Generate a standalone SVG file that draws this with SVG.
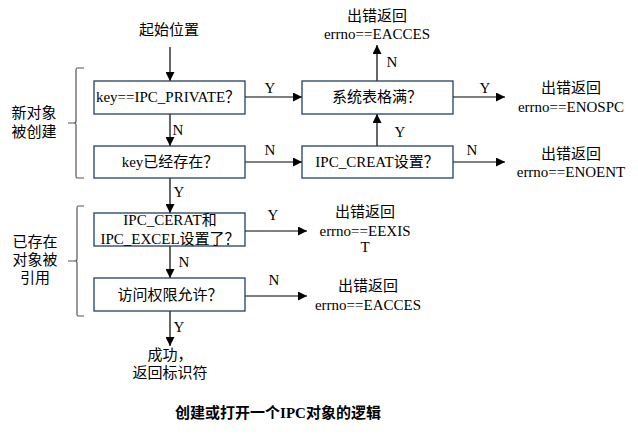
<svg xmlns="http://www.w3.org/2000/svg" width="638" height="435" viewBox="0 0 638 435">
<style>
.t{font-family:"Liberation Serif","Noto Sans CJK SC",serif;font-size:15px;fill:#000;text-anchor:middle}
.q{font-family:"Noto Sans CJK SC",sans-serif}
.lb{font-family:"Liberation Serif",serif;font-size:15px;fill:#000;text-anchor:middle}
.box{fill:#fff;stroke:#243f60;stroke-width:1.3}
.ln{stroke:#000;stroke-width:1.2;fill:none}
.br{stroke:#555;stroke-width:1.2;fill:none}
.cap{font-family:"Noto Sans CJK SC","Liberation Serif",sans-serif;font-size:15px;font-weight:bold;text-anchor:middle}
.capl{font-family:"Liberation Serif",serif}
</style>
<defs>
<marker id="ah" markerWidth="9" markerHeight="9" refX="9" refY="4.5" orient="auto" markerUnits="userSpaceOnUse">
<path d="M0,0 L9,4.5 L0,9 z" fill="#000"/>
</marker>
</defs>
<rect width="638" height="435" fill="#fff"/>

<g id="connectors">
<line class="ln" x1="170" y1="47" x2="170" y2="81" marker-end="url(#ah)"/>
<line class="ln" x1="170" y1="114" x2="170" y2="146" marker-end="url(#ah)"/>
<line class="ln" x1="170" y1="178" x2="170" y2="213" marker-end="url(#ah)"/>
<line class="ln" x1="170" y1="246" x2="170" y2="278" marker-end="url(#ah)"/>
<line class="ln" x1="170" y1="311" x2="170" y2="346" marker-end="url(#ah)"/>
<line class="ln" x1="245" y1="97" x2="302" y2="97" marker-end="url(#ah)"/>
<line class="ln" x1="245" y1="162" x2="302" y2="162" marker-end="url(#ah)"/>
<line class="ln" x1="377" y1="146" x2="377" y2="114" marker-end="url(#ah)"/>
<line class="ln" x1="377" y1="81" x2="377" y2="45" marker-end="url(#ah)"/>
<line class="ln" x1="453" y1="97" x2="505" y2="97" marker-end="url(#ah)"/>
<line class="ln" x1="453" y1="162" x2="505" y2="162" marker-end="url(#ah)"/>
<line class="ln" x1="245" y1="231" x2="307" y2="231" marker-end="url(#ah)"/>
<line class="ln" x1="245" y1="296" x2="307" y2="296" marker-end="url(#ah)"/>
<text class="lb" x="178" y="135">N</text>
<text class="lb" x="179" y="197">Y</text>
<text class="lb" x="184" y="267">N</text>
<text class="lb" x="179" y="332">Y</text>
<text class="lb" x="270" y="93">Y</text>
<text class="lb" x="270" y="155">N</text>
<text class="lb" x="400" y="137">Y</text>
<text class="lb" x="392" y="67">N</text>
<text class="lb" x="485" y="93">Y</text>
<text class="lb" x="472" y="155">N</text>
<text class="lb" x="273" y="220">Y</text>
<text class="lb" x="274" y="285">N</text>
</g>

<g id="start"><text class="t" x="169" y="35">起始位置</text></g>

<g id="n1"><rect class="box" x="94" y="81" width="151" height="33"/><text class="t" x="168" y="102">key==IPC_PRIVATE<tspan class="q">？</tspan></text></g>
<g id="n2"><rect class="box" x="94" y="146" width="151" height="32"/><text class="t" x="170" y="167">key已经存在<tspan class="q">？</tspan></text></g>
<g id="n3"><rect class="box" x="302" y="81" width="151" height="33"/><text class="t" x="377" y="102">系统表格满<tspan class="q">？</tspan></text></g>
<g id="n4"><rect class="box" x="302" y="146" width="151" height="32"/><text class="t" x="377" y="167">IPC_CREAT设置<tspan class="q">？</tspan></text></g>
<g id="n5"><rect class="box" x="94" y="213" width="151" height="33"/><text class="t" x="170" y="225">IPC_CERAT和</text><text class="t" x="170" y="244">IPC_EXCEL设置了<tspan class="q">？</tspan></text></g>
<g id="n6"><rect class="box" x="94" y="278" width="151" height="33"/><text class="t" x="170" y="300">访问权限允许<tspan class="q">？</tspan></text></g>

<g id="e1"><text class="t" x="377" y="21">出错返回</text><text class="t" x="377" y="39">errno==EACCES</text></g>
<g id="e2"><text class="t" x="571" y="93">出错返回</text><text class="t" x="571" y="112">errno==ENOSPC</text></g>
<g id="e3"><text class="t" x="571" y="159">出错返回</text><text class="t" x="571" y="177">errno==ENOENT</text></g>
<g id="e4"><text class="t" x="365" y="217">出错返回</text><text class="t" x="365" y="236">errno==EEXIS</text><text class="t" x="365" y="252">T</text></g>
<g id="e5"><text class="t" x="368" y="291">出错返回</text><text class="t" x="368" y="310">errno==EACCES</text></g>
<g id="ok"><text class="t" x="170" y="360">成功，</text><text class="t" x="170" y="378">返回标识符</text></g>

<g id="brace1">
<path class="br" d="M84,68 L77,68 Q76,68 76,70 L76,121 Q76,123 74,123 L68,123 M74,123 Q76,123 76,125 L76,176 Q76,178 77,178 L84,178"/>
<text class="t" x="34" y="118">新对象</text><text class="t" x="34" y="137">被创建</text>
</g>
<g id="brace2">
<path class="br" d="M84,206 L78,206 Q77,206 77,208 L77,259 Q77,261 75,261 L68,261 M75,261 Q77,261 77,263 L77,314 Q77,316 78,316 L84,316"/>
<text class="t" x="35" y="247">已存在</text><text class="t" x="35" y="265">对象被</text><text class="t" x="35" y="283">引用</text>
</g>

<g id="caption"><text class="cap" x="278" y="418">创建或打开一个<tspan class="capl">IPC</tspan>对象的逻辑</text></g>
</svg>
